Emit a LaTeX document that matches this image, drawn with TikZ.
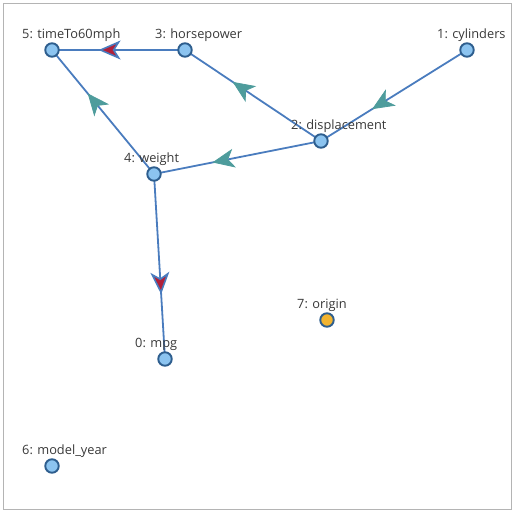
\documentclass[tikz,border=0pt]{standalone}
\usepackage{fontspec}
\setmainfont{Open Sans}
\usetikzlibrary{arrows.meta,decorations.markings,calc}
\definecolor{edgeblue}{HTML}{4A7CBE}
\definecolor{nodeline}{HTML}{2E5E8E}
\definecolor{nodefill}{HTML}{8CC4F0}
\definecolor{originfill}{HTML}{F2B430}
\definecolor{arrteal}{HTML}{4E9C9C}
\definecolor{arrred}{HTML}{B0203A}
\definecolor{labelgray}{HTML}{383838}
\definecolor{framegray}{HTML}{B4B4B4}
\begin{document}
\begin{tikzpicture}[x=1pt,y=-1pt,
  var/.style={circle, draw=nodeline, fill=nodefill, line width=1.9pt,
              minimum size=13.5pt, inner sep=0pt},
  lbl/.style={anchor=base west, inner sep=0pt, text=labelgray,
              font=\fontsize{12.8}{14}\selectfont},
  edge/.style={draw=edgeblue, line width=1.8pt},
  tealhead/.style={postaction={decorate}, decoration={markings,
      mark=at position 0.65 with {\arrow{Stealth[length=22pt,width=19pt,inset=6pt,
        fill=arrteal,color=arrteal,line width=0.8pt]}}}},
  redhead/.style={postaction={decorate}, decoration={markings,
      mark=at position 0.65 with {\arrow{Stealth[length=22pt,width=19pt,inset=6pt,
        fill=arrred,color=edgeblue,line width=1.6pt]}}}},
]
\useasboundingbox (0,0) rectangle (517,515);
\draw[framegray, line width=1.4pt] (3.5,3.5) rectangle (511.5,509.5);

% variable positions
\coordinate (p5) at (52,50);
\coordinate (p3) at (185,50);
\coordinate (p1) at (467,50);
\coordinate (p2) at (321,141);
\coordinate (p4) at (154,174);
\coordinate (p0) at (165,359);
\coordinate (p7) at (327,320);
\coordinate (p6) at (52,466);

% directed edges
\path[edge, redhead] (p3) -- (p5);
\path[edge, tealhead] (p1) -- (p2);
\path[edge, tealhead] (p2) -- (p3);
\path[edge, tealhead] (p2) -- (p4);
\path[edge, tealhead] (p4) -- (p5);
\path[edge, redhead] (p4) -- (p0);

% nodes
\node[var] (n5) at (p5) {};
\node[var] (n3) at (p3) {};
\node[var] (n1) at (p1) {};
\node[var] (n2) at (p2) {};
\node[var] (n4) at (p4) {};
\node[var] (n0) at (p0) {};
\node[var, fill=originfill] (n7) at (p7) {};
\node[var] (n6) at (p6) {};

% labels
\node[lbl] (l5) at ($(p5)+(-30,-12)$) {5: timeTo60mph};
\node[lbl] (l3) at ($(p3)+(-30,-12)$) {3: horsepower};
\node[lbl] (l1) at ($(p1)+(-30,-12)$) {1: cylinders};
\node[lbl] (l2) at ($(p2)+(-30,-12)$) {2: displacement};
\node[lbl] (l4) at ($(p4)+(-30,-12)$) {4: weight};
\node[lbl] (l0) at ($(p0)+(-30,-12)$) {0: mpg};
\node[lbl] (l7) at ($(p7)+(-30,-12)$) {7: origin};
\node[lbl] (l6) at ($(p6)+(-30,-12)$) {6: model\_year};
\end{tikzpicture}
\end{document}
